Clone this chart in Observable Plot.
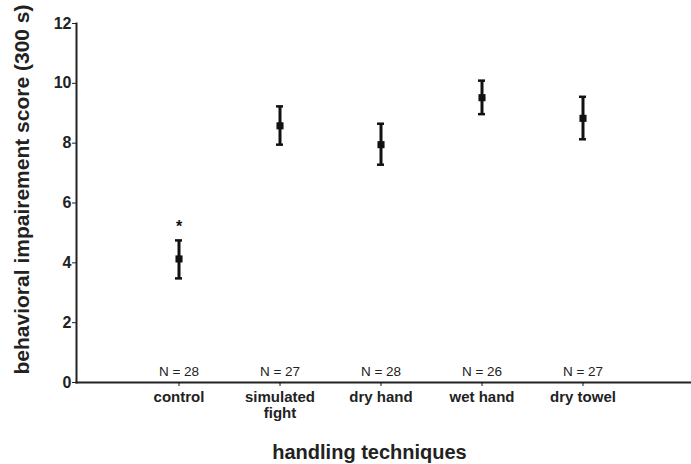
<!DOCTYPE html>
<html>
<head>
<meta charset="utf-8">
<script src="https://cdn.jsdelivr.net/npm/d3@7"></script>
<script src="https://cdn.jsdelivr.net/npm/@observablehq/plot@0.6"></script>
<style>
  html, body { margin: 0; padding: 0; background: #fff; }
</style>
</head>
<body>
<div id="chart"></div>
<script>
const categories = ["control", "simulated fight", "dry hand", "wet hand", "dry towel"];
const means = [4.13, 8.58, 7.95, 9.52, 8.83];
const lower = [3.48, 7.95, 7.28, 8.97, 8.13];
const upper = [4.75, 9.23, 8.65, 10.09, 9.55];
const nValues = [28, 27, 28, 26, 27];
const yTicks = [0, 2, 4, 6, 8, 10, 12];
const significance = [{category: "control", y: 5.37, mark: "*"}];

const data = categories.map((c, i) => ({
  category: c, mean: means[i], lo: lower[i], hi: upper[i], n: nValues[i]
}));

const font = "'Liberation Sans', Arial, Helvetica, sans-serif";
const ink = "#111";

const chart = Plot.plot({
  width: 691,
  height: 464,
  marginLeft: 76,
  marginRight: 5,
  marginTop: 23,
  marginBottom: 82,
  style: {fontFamily: font, color: ink, background: "#fff"},
  x: {type: "band", domain: categories, paddingInner: 0.93, paddingOuter: 0.965, align: 0.5},
  y: {domain: [0, 12]},
  marks: [
    Plot.frame({anchor: "left", stroke: "#222", strokeWidth: 2}),
    Plot.frame({anchor: "bottom", stroke: "#222", strokeWidth: 2, insetRight: -4}),
    Plot.axisY({ticks: yTicks, tickSize: 4, tickPadding: 1, fontSize: 16, fontWeight: "bold", label: null, stroke: "#222", fill: "#222"}),
    Plot.axisX({
      tickSize: 4, tickPadding: 3, fontSize: 15, fontWeight: "bold", label: null, lineHeight: 1.13, fill: "#222",
      tickFormat: d => d === "simulated fight" ? "simulated\nfight" : d
    }),
    Plot.ruleX(data, {x: "category", y1: "lo", y2: "hi", stroke: ink, strokeWidth: 3}),
    Plot.tickY(data, {x: "category", y: "lo", stroke: ink, strokeWidth: 2.5}),
    Plot.tickY(data, {x: "category", y: "hi", stroke: ink, strokeWidth: 2.5}),
    Plot.dot(data, {x: "category", y: "mean", symbol: "square", r: 4, fill: ink, stroke: null}),
    Plot.text(data, {
      x: "category", y: 0, text: d => `N = ${d.n}`, dy: -10.5,
      fontSize: 13.5, fontFamily: "'Liberation Sans Narrow', 'Arial Narrow', " + font, fill: "#222"
    }),
    Plot.text(significance, {x: "category", y: "y", text: "mark", dy: 5, fontSize: 16, fontWeight: "bold", fill: ink}),
    Plot.text(["behavioral impairement score (300 s)"], {
      frameAnchor: "left", textAnchor: "middle", lineAnchor: "middle", rotate: -90,
      dx: -54, dy: -13.5, fontSize: 21, fontWeight: "bold", fill: "#222"
    }),
    Plot.text(["handling techniques"], {
      frameAnchor: "bottom", lineAnchor: "middle", dx: -12, dy: 70, fontSize: 20, fontWeight: "bold", fill: "#222"
    })
  ]
});

document.getElementById("chart").appendChild(chart);
</script>
</body>
</html>
